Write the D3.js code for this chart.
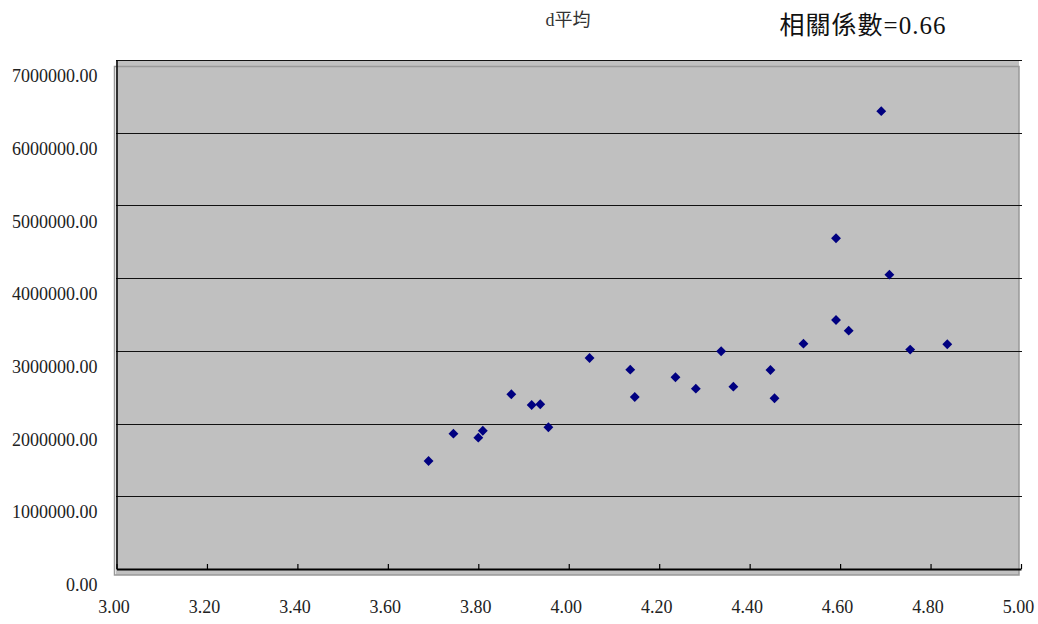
<!DOCTYPE html>
<html>
<head>
<meta charset="utf-8">
<script src="https://cdn.jsdelivr.net/npm/d3@7"></script>
<style>
  html, body { margin: 0; padding: 0; background: #fff; }
  svg { display: block; }
</style>
</head>
<body>
<svg id="chart" width="1038" height="624"></svg>
<script>
// ---- data ----
const dAvg = [3.69, 3.745, 3.80, 3.81, 3.873, 3.918, 3.937, 3.955, 4.046, 4.136,
              4.146, 4.236, 4.281, 4.337, 4.364, 4.446, 4.455, 4.519, 4.591, 4.591,
              4.619, 4.691, 4.709, 4.755, 4.837];
const values = [1486000, 1861000, 1806000, 1902000, 2403000, 2256000, 2265000, 1949000, 2902000, 2741000,
                2366000, 2637000, 2480000, 2994000, 2508000, 2737000, 2348000, 3099000, 4549000, 3425000,
                3278000, 6296000, 4048000, 3017000, 3091000];
const xTicks = [3.0, 3.2, 3.4, 3.6, 3.8, 4.0, 4.2, 4.4, 4.6, 4.8, 5.0];
const yTicks = [0, 1000000, 2000000, 3000000, 4000000, 5000000, 6000000, 7000000];
const titleText = "d平均";
const corrText = "相關係數=0.66";

const svg = d3.select("#chart");
const x = d3.scaleLinear().domain([3, 5]).range([116.5, 1021]);
const y = d3.scaleLinear().domain([0, 7000000]).range([569, 60]);
const fmt = d3.format(".2f");
const serif = "'Liberation Serif', 'Times New Roman', serif";

// plot background
svg.append("rect").attr("x", 116).attr("y", 60).attr("width", 903).attr("height", 515)
  .attr("fill", "#c0c0c0");
// outer light frame
svg.append("rect").attr("x", 114.5).attr("y", 66.5).attr("width", 904.5).attr("height", 508.5)
  .attr("fill", "none").attr("stroke", "#999").attr("stroke-width", 1.5);

// gridlines
svg.append("g").selectAll("line").data(yTicks.filter(v => v > 0)).join("line")
  .attr("x1", 116).attr("x2", 1022)
  .attr("y1", d => Math.round(y(d)) + 0.5).attr("y2", d => Math.round(y(d)) + 0.5)
  .attr("stroke", "#111").attr("stroke-width", 1.2);

// y axis (labels shifted down as in the reference)
const yAxis = d3.axisLeft(y).tickValues(yTicks).tickFormat(fmt).tickSize(0).tickPadding(19);
const gy = svg.append("g").attr("transform", "translate(116.5,0)").call(yAxis);
gy.select(".domain").attr("stroke", "#000").attr("stroke-width", 1.5);
gy.selectAll("text").attr("dy", "1.2em").attr("font-family", serif).attr("font-size", 18).attr("fill", "#222");

// x axis
const xAxis = d3.axisBottom(x).tickValues(xTicks).tickFormat(fmt).tickSizeInner(-5).tickSizeOuter(0).tickPadding(0);
const gx = svg.append("g").attr("transform", "translate(0,569)").call(xAxis);
gx.select(".domain").attr("stroke", "#000").attr("stroke-width", 2);
gx.selectAll(".tick line").attr("stroke", "#000").attr("stroke-width", 1.2);
gx.selectAll("text").attr("y", 0).attr("dy", "2.45em").attr("dx", -3)
  .attr("font-family", serif).attr("font-size", 18).attr("fill", "#222");

// points (diamonds)
const pts = dAvg.map((d, i) => ({ x: d, y: values[i] }));
svg.append("g").selectAll("path").data(pts).join("path")
  .attr("d", d3.symbol().type(d3.symbolDiamond2).size(62))
  .attr("transform", d => `translate(${x(d.x)},${y(d.y)})`)
  .attr("fill", "#000080");

// titles
svg.append("text").attr("x", 568).attr("y", 26).attr("text-anchor", "middle")
  .attr("font-family", "'Liberation Serif', 'Noto Sans CJK TC', serif").attr("font-size", 18)
  .attr("fill", "#333").text(titleText);
svg.append("text").attr("x", 863).attr("y", 34).attr("text-anchor", "middle")
  .attr("font-family", "'Liberation Serif', 'Noto Sans CJK TC', serif").attr("font-size", 25)
  .attr("letter-spacing", 1).attr("fill", "#111").text(corrText);
</script>
</body>
</html>
